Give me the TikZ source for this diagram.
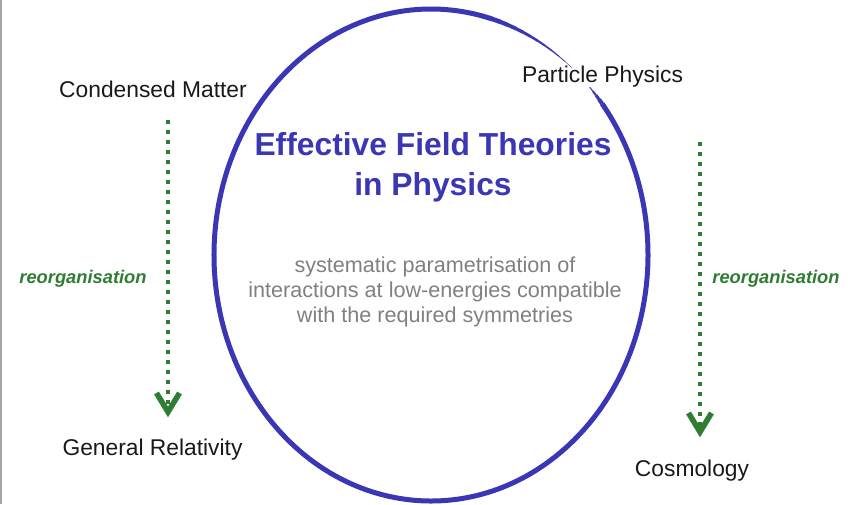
\documentclass[tikz,border=0pt]{standalone}
\usepackage{fontspec}
\setmainfont{Liberation Sans}
\usetikzlibrary{arrows.meta}

\definecolor{eftblue}{RGB}{58,54,180}
\definecolor{reorggreen}{RGB}{46,125,50}
\definecolor{notegray}{RGB}{128,128,128}

\begin{document}
\begin{tikzpicture}[x=1pt, y=-1pt,
	field/.style={inner sep=0pt, anchor=base, text=black!90, font=\fontsize{22.8}{27}\selectfont},
	reorglabel/.style={inner sep=0pt, anchor=base, text=reorggreen, font=\fontsize{18.3}{22}\selectfont\bfseries\itshape},
	reorgarrow/.style={reorggreen, line width=4pt, dash pattern=on 4pt off 6pt,
		-{Straight Barb[length=19pt, width=23pt, line width=5.5pt]}},
	ring/.style={eftblue, line width=5pt}]
	\useasboundingbox (0,0) rectangle (854,504);
	% frame edge
	\draw[black!35, line width=2pt] (1,0) -- (1,504);
	% ellipse
	\draw[ring] (431,255) ++(-38:217 and 246) arc[start angle=-38, end angle=284, x radius=217, y radius=246];
	\foreach \i in {0,...,11} {
		\pgfmathsetmacro\w{5*(1-\i/12)}
		\draw[eftblue, line width=\w pt, line cap=round] (431,255) ++({-76+\i*2.2}:217 and 246)
			arc[start angle={-76+\i*2.2}, end angle={-76+(\i+1)*2.2}, x radius=217, y radius=246];
	}
	\foreach \i in {0,...,3} {
		\pgfmathsetmacro\w{1+\i}
		\draw[eftblue, line width=\w pt] (431,255) ++({-43+\i*1.25}:217 and 246)
			arc[start angle={-43+\i*1.25}, end angle={-43+(\i+1)*1.25}, x radius=217, y radius=246];
	}
	% titles
	\node[inner sep=0pt, align=center, text=eftblue, font=\fontsize{31.8}{40}\selectfont\bfseries] (eft) at (433,167) {Effective Field Theories\\in Physics};
	\node[inner sep=0pt, align=center, text=notegray, font=\fontsize{21.6}{25}\selectfont] (note) at (435,292) {systematic parametrisation of\\interactions at low-energies compatible\\with the required symmetries};
	% fields
	\node[field] (cm) at (153,97) {Condensed Matter};
	\node[field] (gr) at (152.5,455) {General Relativity};
	\node[field] (pp) at (602.5,82) {Particle Physics};
	\node[field] (cosmo) at (692,476) {Cosmology};
	% reorganisation arrows
	\draw[reorgarrow] ([xshift=15pt, yshift=-23pt]cm.south) -- ([xshift=15.5pt, yshift=21pt]gr.north);
	\draw[reorgarrow] ([xshift=97.5pt, yshift=-55pt]pp.south) -- ([xshift=8pt, yshift=22pt]cosmo.north);
	\node[reorglabel] (reorgl) at (83,283) {reorganisation};
	\node[reorglabel] (reorgr) at (776,283) {reorganisation};
\end{tikzpicture}
\end{document}
